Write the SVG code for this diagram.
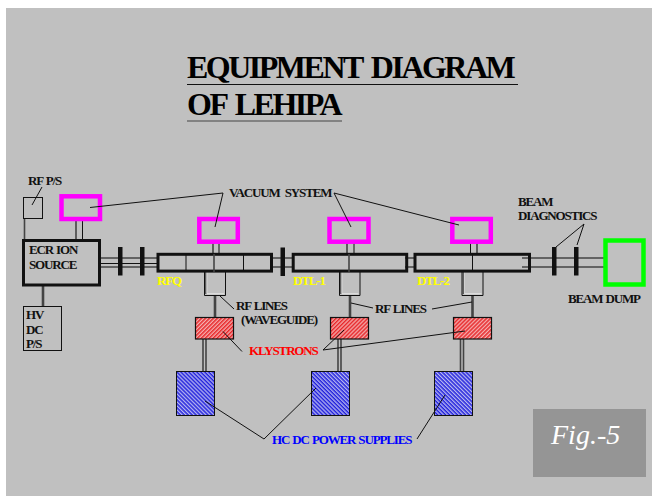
<svg xmlns="http://www.w3.org/2000/svg" width="652" height="496" viewBox="0 0 652 496">
<style>
text{font-family:"Liberation Serif","Times New Roman",serif;font-weight:bold;font-size:13px;fill:#111;letter-spacing:-1.15px;word-spacing:1px}
.ttl{font-size:32px;letter-spacing:-2.5px;word-spacing:4px;fill:#000}
.vac{fill:none;stroke:#ff00ff;stroke-width:4.5}
.cav{fill:none;stroke:#111;stroke-width:3}
.pipe{stroke:#444;stroke-width:1.6;fill:none}
.fat{stroke:#444;stroke-width:2.6;fill:none}
.thin{stroke:#111;stroke-width:1;fill:none}
.wg{stroke:#f0f0f0;stroke-width:.8;fill:none}
.gate{fill:#111}
.kly{fill:url(#red);stroke:#111;stroke-width:1.2}
.ps{fill:url(#blue);stroke:#111;stroke-width:1}
.box{fill:none;stroke:#111;stroke-width:1}
.y{fill:#ffff00}
</style>
<defs>
<pattern id="red" width="2.8" height="2.8" patternUnits="userSpaceOnUse" patternTransform="rotate(-45)"><rect width="2.8" height="2.8" fill="#f4b0b0"/><rect width="2.8" height="1.5" fill="#e8282a"/></pattern>
<pattern id="blue" width="2.8" height="2.8" patternUnits="userSpaceOnUse" patternTransform="rotate(45)"><rect width="2.8" height="2.8" fill="#b8b8f0"/><rect width="2.8" height="1.5" fill="#2222dd"/></pattern>
</defs>
<rect width="652" height="496" fill="#fff"/>
<rect x="6" y="8" width="646" height="488" fill="#c0c0c0"/>
<g id="title">
<text class="ttl" x="187" y="78">EQUIPMENT DIAGRAM</text>
<text class="ttl" x="187" y="115">OF LEHIPA</text>
<path d="M187 84.500H518" stroke="#111" stroke-width="1"/>
<path d="M187 121H342" stroke="#444" stroke-width="1"/>
</g>
<g id="connectors">
<path class="pipe" d="M24.500 218V240M76 218V240"/>
<path class="thin" d="M82.500 218V240M100 263.500H157"/>
<path class="fat" d="M43 285V306"/>
<path class="pipe" d="M100 258H157M100 267H157M273 258H293M273 267H293M522 258H604M522 267H604M405 258H415M405 267H415"/>
<path class="pipe" d="M213 243V254M347 243V254M477 243V254"/>
<path class="thin" d="M219 243V254M354 243V254M470.500 243V254"/>
<path class="pipe" d="M206 272V294M341 272V294M463.500 272V294"/>
<path class="thin" d="M204.500 272V295.500H225.500V272M339.500 272V295.500H360V272M462 272V295.500H483V272"/>
<path class="wg" d="M206.800 272V293.800H224M341.800 272V293.800H358.500M464.300 272V293.800H481.500"/>
<path class="fat" d="M215 296V317M350 296V317M472.500 296V317"/>
<path class="pipe" d="M203 339V371M206 339V371M338 339V371M341 339V371M460.500 339V371M463.500 339V371"/>
</g>
<g id="rf-ps"><rect class="box" x="23.500" y="197.500" width="19" height="21"/>
<text x="28" y="185">RF P/S</text></g>
<g id="hv-dc"><rect class="box" x="23.500" y="306.500" width="38" height="44"/>
<text x="26" y="319">HV</text><text x="26" y="334">DC</text><text x="26" y="348">P/S</text></g>
<g id="ecr"><rect x="23.500" y="240.500" width="76" height="44.500" fill="none" stroke="#111" stroke-width="3"/>
<text x="29" y="254">ECR ION</text><text x="29" y="269">SOURCE</text></g>
<g id="vac-1"><rect class="vac" x="61.500" y="196.300" width="38.500" height="22.700"/></g>
<g id="vac-2"><rect class="vac" x="199.300" y="219" width="38.500" height="22.700"/></g>
<g id="vac-3"><rect class="vac" x="329.500" y="219" width="39" height="22.700"/></g>
<g id="vac-4"><rect class="vac" x="452.300" y="219" width="38.500" height="22.700"/></g>
<g id="gates">
<rect class="gate" x="118" y="247" width="4.500" height="28.500"/>
<rect class="gate" x="140" y="247" width="4.500" height="28.500"/>
<rect class="gate" x="280.500" y="247.500" width="4.500" height="28.500"/>
<rect class="gate" x="552" y="247" width="4.500" height="28.500"/>
<rect class="gate" x="574" y="247" width="4.500" height="28.500"/>
</g>
<g id="rfq"><rect class="cav" x="158" y="254.300" width="113.500" height="16.800"/>
<path class="thin" d="M186 254V272M243.500 254V272"/><path class="pipe" d="M214 254V272"/>
<text class="y" x="157" y="285">RFQ</text></g>
<g id="dtl1"><rect class="cav" x="293.200" y="254.300" width="113.500" height="16.800"/>
<path class="pipe" d="M349 254V272"/><text class="y" x="293" y="285">DTL-1</text></g>
<g id="dtl2"><rect class="cav" x="415" y="254.300" width="114.500" height="16.800"/>
<path class="thin" d="M472.500 254V272"/><text class="y" x="417" y="285">DTL-2</text></g>
<g id="dump"><rect x="605.500" y="240.500" width="38" height="44" fill="none" stroke="#00ff00" stroke-width="4.500"/></g>
<g id="kly-1"><rect class="kly" x="195.500" y="317.500" width="38" height="21.500"/></g>
<g id="kly-2"><rect class="kly" x="330.500" y="317.500" width="38" height="21.500"/></g>
<g id="kly-3"><rect class="kly" x="453.500" y="317.500" width="38" height="21.500"/></g>
<g id="ps-1"><rect class="ps" x="176.500" y="371.500" width="38" height="44"/></g>
<g id="ps-2"><rect class="ps" x="311.500" y="371.500" width="38" height="44"/></g>
<g id="ps-3"><rect class="ps" x="434.500" y="371.500" width="38" height="44"/></g>
<g id="leaders">
<path class="thin" d="M42 187 32 205M223 193 90 207.500M223 193 215 227M334 193 351 227M334 193 459 225"/>
<path class="thin" d="M584 224 556 247M584 224 577 245"/>
<path class="thin" d="M234 309 220 296M373 308 351 303M432 309 472 302"/>
<path class="thin" d="M242 351.500 223 331.500M323 350 344 330M323 350 465 331"/>
<path class="thin" d="M205 401 264 439 316 388M417 439 445 395"/>
</g>
<g id="labels">
<text x="229" y="197" style="word-spacing:3px">VACUUM SYSTEM</text>
<text x="518" y="206">BEAM</text>
<text x="518" y="220">DIAGNOSTICS</text>
<text x="568" y="303">BEAM DUMP</text>
<text x="236" y="310">RF LINES</text>
<text x="241" y="324">(WAVEGUIDE)</text>
<text x="375" y="313">RF LINES</text>
<text x="249" y="355" style="fill:#ff0000">KLYSTRONS</text>
<text x="272" y="444" style="fill:#0000ff">HC DC POWER SUPPLIES</text>
</g>
<g id="fig"><rect x="533" y="409" width="113" height="68" fill="#959595"/>
<text x="551" y="444" style="font-size:28px;font-weight:normal;font-style:italic;fill:#fff;letter-spacing:0">Fig.-5</text></g>
</svg>
